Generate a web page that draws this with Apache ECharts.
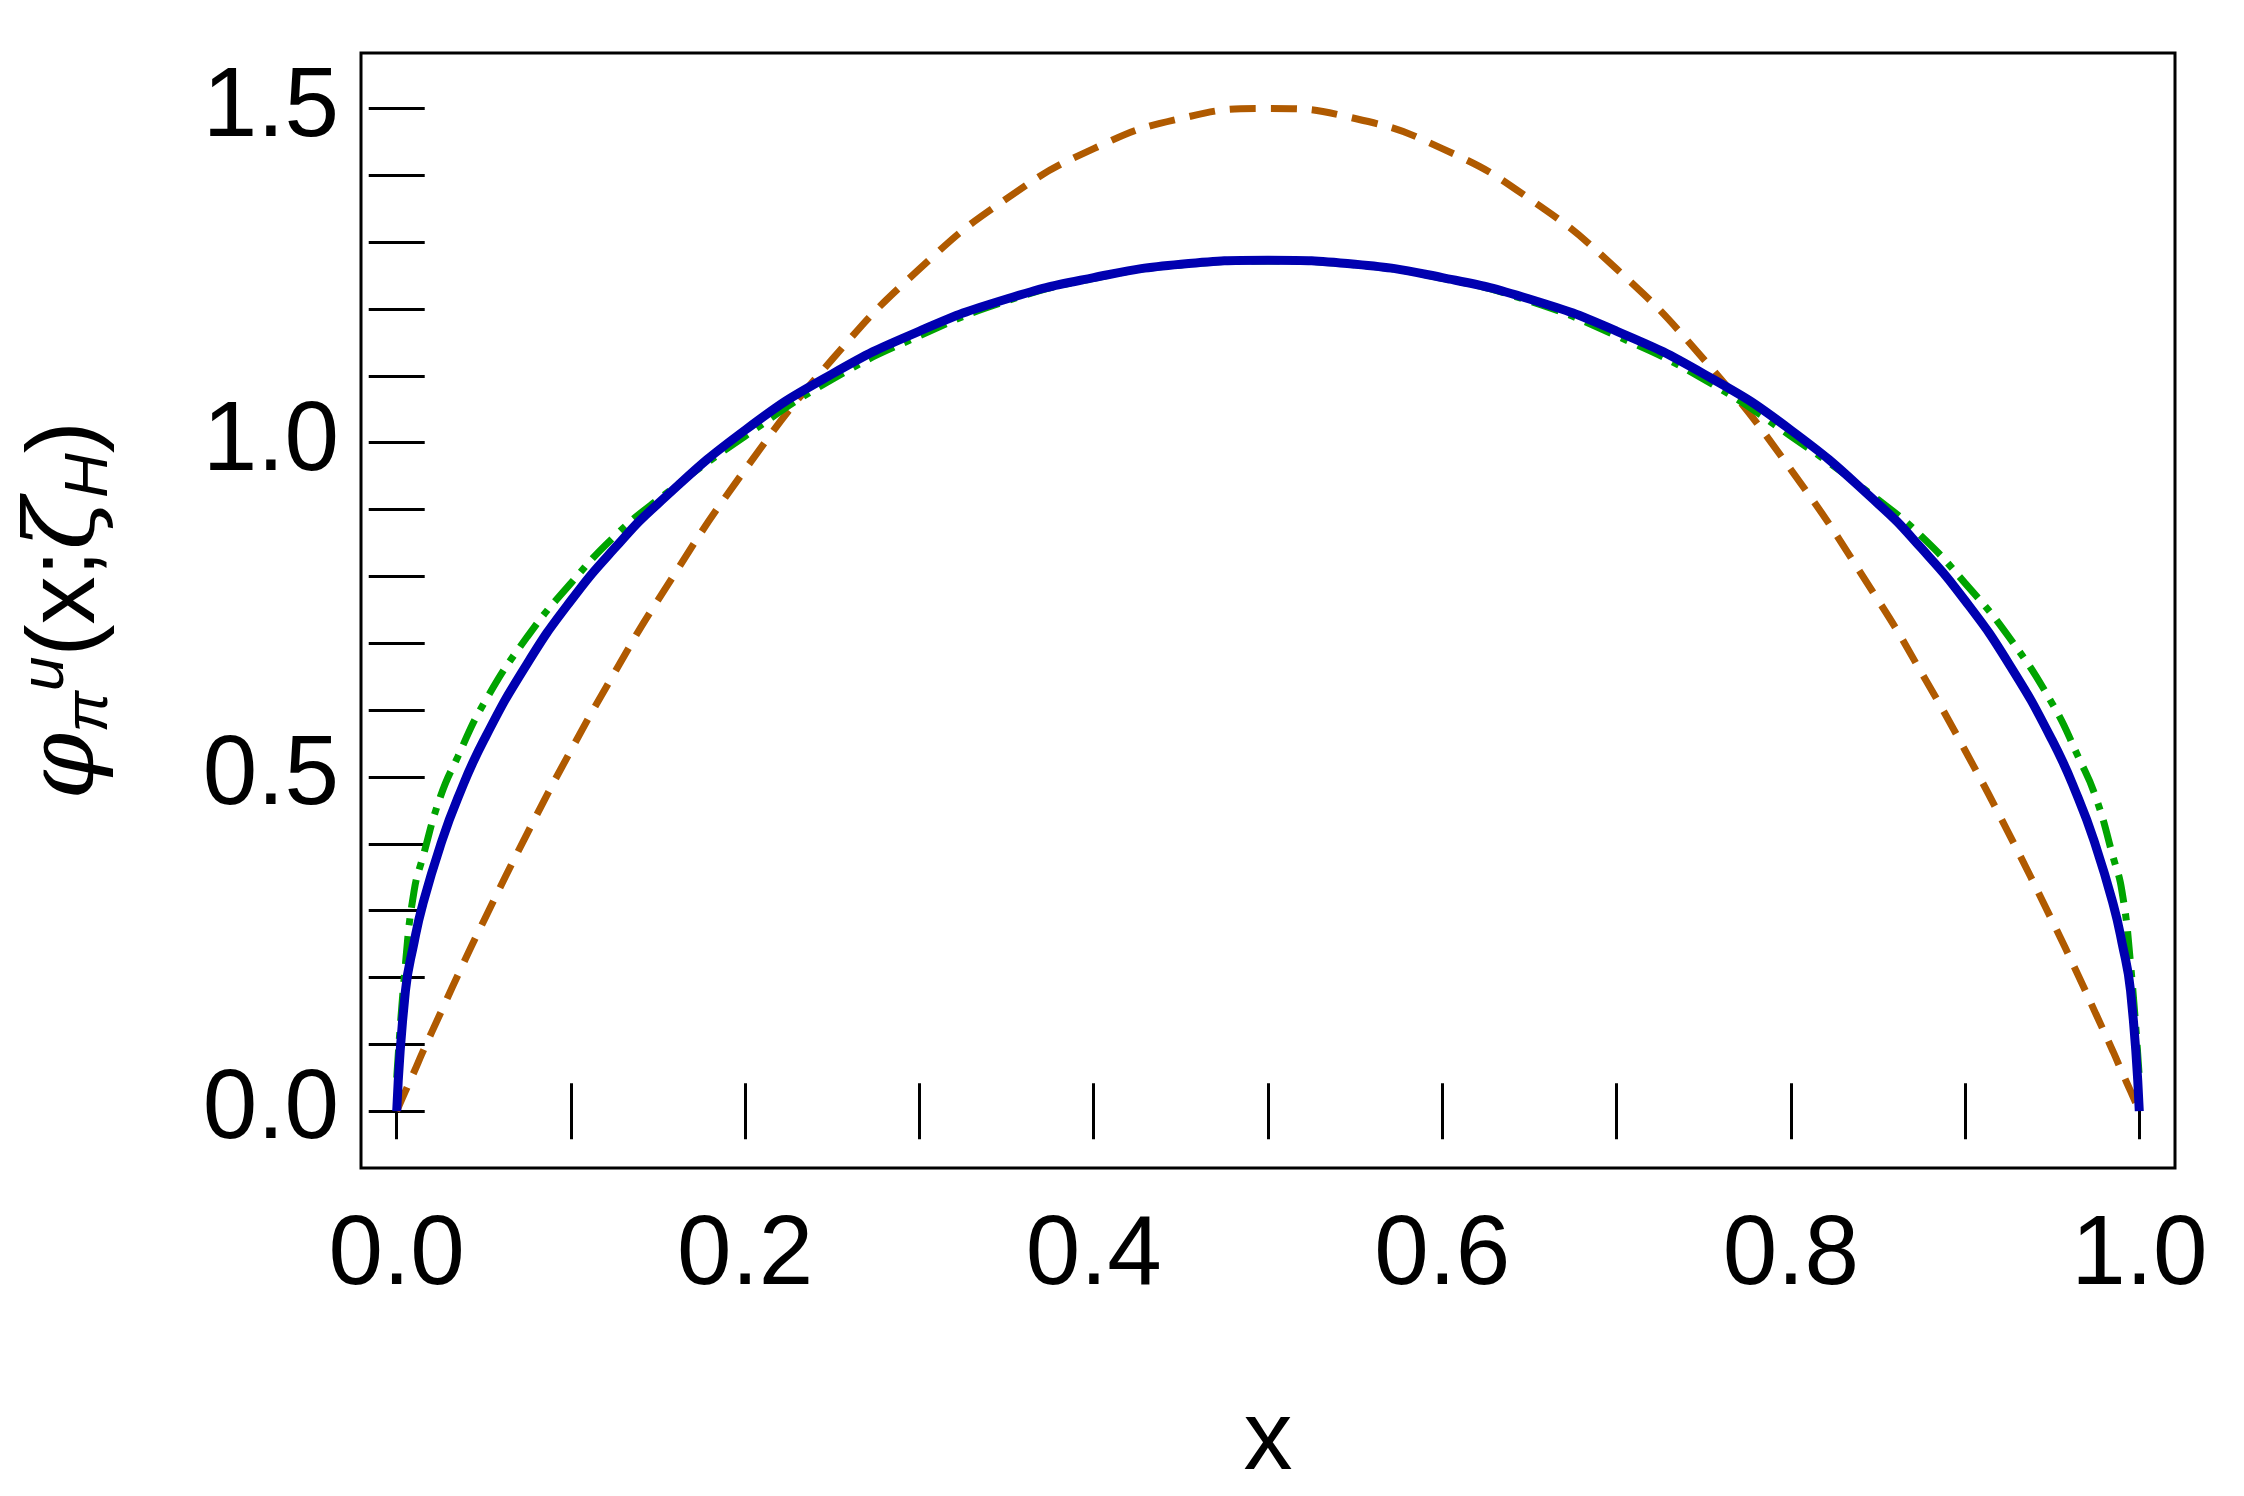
<!DOCTYPE html>
<html><head><meta charset="utf-8">
<script src="https://cdn.jsdelivr.net/npm/echarts@6/dist/echarts.min.js"></script>
<style>html,body{margin:0;background:#fff}#c{width:2244px;height:1496px}</style>
</head><body><div id="c"></div>
<script>
// x grid (symmetric about 0.5)
var xs = [0, 0.005, 0.01, 0.015, 0.025, 0.035, 0.05, 0.075, 0.1, 0.125, 0.15, 0.2, 0.25, 0.3, 0.35, 0.4, 0.45, 0.5,
	0.55, 0.6, 0.65, 0.7, 0.75, 0.8, 0.85, 0.875, 0.9, 0.925, 0.95, 0.965, 0.975, 0.985, 0.99, 0.995, 1];
// blue solid
var blueVals = [0, 0.18, 0.253, 0.31, 0.397, 0.468, 0.555, 0.67, 0.764, 0.842, 0.909, 1.019, 1.103, 1.167, 1.215, 1.247, 1.267, 1.273,
	1.267, 1.247, 1.215, 1.167, 1.103, 1.019, 0.909, 0.842, 0.764, 0.67, 0.555, 0.468, 0.397, 0.31, 0.253, 0.18, 0];
// green dot-dash
var greenVals = [0.05, 0.22, 0.33, 0.38, 0.47, 0.53, 0.61, 0.71, 0.79, 0.86, 0.915, 1.01, 1.095, 1.16, 1.212, 1.246, 1.266, 1.272,
	1.266, 1.246, 1.212, 1.16, 1.095, 1.01, 0.915, 0.86, 0.79, 0.71, 0.61, 0.53, 0.47, 0.38, 0.33, 0.22, 0.05];
// orange dashed
var orangeVals = [0, 0.03, 0.059, 0.089, 0.146, 0.203, 0.285, 0.416, 0.54, 0.656, 0.765, 0.96, 1.125, 1.26, 1.365, 1.44, 1.485, 1.5,
	1.485, 1.44, 1.365, 1.26, 1.125, 0.96, 0.765, 0.656, 0.54, 0.416, 0.285, 0.203, 0.146, 0.089, 0.059, 0.03, 0];
var xTicks = [0, 0.1, 0.2, 0.3, 0.4, 0.5, 0.6, 0.7, 0.8, 0.9, 1];
var xLabels = [0, 0.2, 0.4, 0.6, 0.8, 1];
var yTicks = [0, 0.1, 0.2, 0.3, 0.4, 0.5, 0.6, 0.7, 0.8, 0.9, 1, 1.1, 1.2, 1.3, 1.4, 1.5];
var yLabels = [0, 0.5, 1, 1.5];

function pairs(v) { return xs.map(function(x, i) { return [x, v[i]]; }); }

var font = 'Liberation Sans, Arial, sans-serif';
function tick(vals) { return { show: true, inside: true, length: 28, customValues: vals, lineStyle: { color: '#000', width: 3 } }; }
var lbl = { fontSize: 98, color: '#000', fontFamily: font, formatter: function(v) { return v.toFixed(1); } };
var xMin = -0.0205, xMax = 1.0205, yMin = -0.085, yMax = 1.583;

var myChart = echarts.init(document.getElementById('c'));
myChart.setOption({
	animation: false,
	grid: { left: 361, right: 69, top: 53, bottom: 323, show: true, borderColor: '#000', borderWidth: 3 },
	xAxis: [
		{ type: 'value', min: xMin, max: xMax, position: 'bottom',
			axisLine: { show: false }, axisTick: tick(xTicks), splitLine: { show: false },
			axisLabel: Object.assign({ margin: 40, customValues: xLabels }, lbl),
			name: 'x', nameLocation: 'middle', nameGap: 225,
			nameTextStyle: { fontSize: 98, color: '#000', fontFamily: font } },
		{ type: 'value', min: xMin, max: xMax, position: 'top',
			axisLine: { show: false }, axisTick: tick(xTicks), splitLine: { show: false },
			axisLabel: { show: false } }
	],
	yAxis: [
		{ type: 'value', min: yMin, max: yMax, position: 'left',
			axisLine: { show: false }, axisTick: tick(yTicks), splitLine: { show: false },
			axisLabel: Object.assign({ margin: 22, customValues: yLabels }, lbl),
			name: '{i|φ}{sub|π}{sup|u}{n|(x;}{i|ζ}{sub|H}{n|)}', nameLocation: 'middle', nameGap: 240,
			nameTextStyle: { color: '#000', fontFamily: font,
				rich: {
					i: { fontSize: 96, fontStyle: 'italic', fontFamily: 'DejaVu Serif' },
					n: { fontSize: 96 },
					sub: { fontSize: 62, fontStyle: 'italic', padding: [44, 0, 0, 0] },
					sup: { fontSize: 62, fontStyle: 'italic', padding: [0, 0, 44, 0] }
				} } },
		{ type: 'value', min: yMin, max: yMax, position: 'right',
			axisLine: { show: false }, axisTick: tick(yTicks), splitLine: { show: false },
			axisLabel: { show: false } }
	],
	series: [
		{ type: 'line', data: pairs(orangeVals), smooth: true, showSymbol: false,
			lineStyle: { color: '#b05a00', width: 7, type: [26, 15] } },
		{ type: 'line', data: pairs(greenVals), smooth: true, showSymbol: false,
			lineStyle: { color: '#00a400', width: 7, type: [28, 11, 7, 11] } },
		{ type: 'line', data: pairs(blueVals), smooth: true, showSymbol: false,
			lineStyle: { color: '#0000b0', width: 9 } }
	]
});
</script></body></html>
